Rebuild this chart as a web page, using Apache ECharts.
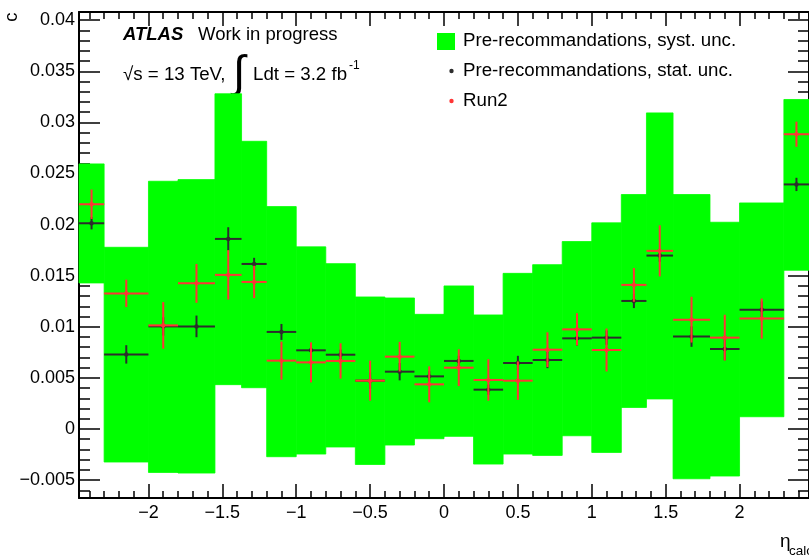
<!DOCTYPE html>
<html><head><meta charset="utf-8">
<script src="https://cdn.jsdelivr.net/npm/echarts@6/dist/echarts.min.js"></script>
<style>html,body{margin:0;padding:0;background:#fff}#c{width:809px;height:558px}</style>
</head><body><div id="c"></div><script>
// ---- data ----
const binEdges = [-2.47,-2.3,-2.0,-1.8,-1.55,-1.37,-1.2,-1.0,-0.8,-0.6,-0.4,-0.2,0,0.2,0.4,0.6,0.8,1.0,1.2,1.37,1.55,1.8,2.0,2.3,2.47];
const systLow  = [0.01429,-0.00323,-0.00425,-0.00431,0.00434,0.00404,-0.00271,-0.00245,-0.00176,-0.00347,-0.00157,-0.00095,-0.00072,-0.00343,-0.00245,-0.00258,-0.00066,-0.00229,0.00211,0.00294,-0.00487,-0.00460,0.00120,0.01553];
const systHigh = [0.02594,0.01778,0.02424,0.02440,0.03280,0.02815,0.02176,0.01782,0.01618,0.01292,0.01282,0.01122,0.01400,0.01116,0.01523,0.01608,0.01834,0.02017,0.02294,0.03093,0.02294,0.02023,0.02212,0.03224];
const preRecValue = [0.02013,0.00730,0.01004,0.01004,0.01860,0.01615,0.00950,0.00770,0.00727,0.00473,0.00561,0.00515,0.00666,0.00385,0.00646,0.00675,0.00887,0.00894,0.01253,0.01697,0.00904,0.00783,0.01168,0.02393];
const preRecStat  = [0.00060,0.00090,0.00090,0.00106,0.00114,0.00060,0.00078,0.00060,0.00050,0.00080,0.00085,0.00050,0.00050,0.00050,0.00070,0.00080,0.00070,0.00070,0.00070,0.00060,0.00100,0.00110,0.00080,0.00065];
const run2Value = [0.02199,0.01327,0.01014,0.01425,0.01508,0.01439,0.00669,0.00652,0.00666,0.00473,0.00708,0.00437,0.00600,0.00480,0.00473,0.00776,0.00975,0.00773,0.01410,0.01743,0.01070,0.00894,0.01080,0.02884];
const run2Err   = [0.00144,0.00134,0.00228,0.00190,0.00242,0.00158,0.00186,0.00196,0.00173,0.00196,0.00145,0.00176,0.00180,0.00203,0.00188,0.00170,0.00158,0.00210,0.00165,0.00250,0.00224,0.00224,0.00196,0.00123];
const xRange = [-2.47, 2.47];
const yRange = [-0.00675, 0.0408];
const xMajor = 0.5, yMajor = 0.005;
const legendNames = ['Pre-recommandations, syst. unc.', 'Pre-recommandations, stat. unc.', 'Run2'];

// ---- chart ----
const FONT = 'Liberation Sans, Arial, Helvetica, sans-serif';
const GREEN = '#00ff00', DARK = '#2d2d2d', RED = '#ff3535';
const chart = echarts.init(document.getElementById('c'), null, {renderer: 'canvas'});

const bandData = binEdges.slice(0, -1).map((lo, i) => [lo, binEdges[i + 1], systLow[i], systHigh[i]]);
const statData = binEdges.slice(0, -1).map((lo, i) => [lo, binEdges[i + 1], preRecValue[i], preRecStat[i]]);
const run2Data = binEdges.slice(0, -1).map((lo, i) => [lo, binEdges[i + 1], run2Value[i], run2Err[i]]);

function renderBand(params, api) {
  const p1 = api.coord([api.value(0), api.value(3)]);
  const p2 = api.coord([api.value(1), api.value(2)]);
  return {type: 'rect', shape: {x: p1[0], y: p1[1], width: p2[0] - p1[0], height: p2[1] - p1[1]},
          style: {fill: GREEN, stroke: GREEN, lineWidth: 0.8}};
}
function makeErr(color) {
  return function (params, api) {
    const lo = api.value(0), hi = api.value(1), v = api.value(2), e = api.value(3);
    const c = (lo + hi) / 2;
    const a = api.coord([lo, v]), b = api.coord([hi, v]);
    const t = api.coord([c, v + e]), d = api.coord([c, v - e]), m = api.coord([c, v]);
    return {type: 'group', children: [
      {type: 'line', shape: {x1: a[0], y1: a[1], x2: b[0], y2: b[1]}, style: {stroke: color, lineWidth: 2}},
      {type: 'line', shape: {x1: t[0], y1: t[1], x2: d[0], y2: d[1]}, style: {stroke: color, lineWidth: 2}},
      {type: 'circle', shape: {cx: m[0], cy: m[1], r: 2.2}, style: {fill: color}}
    ]};
  };
}
const fmt = (v) => String(Math.round(v * 1e5) / 1e5).replace('-', '\u2212');

function xAxisDef(pos, labels) {
  return {type: 'value', position: pos, min: xRange[0], max: xRange[1],
    splitNumber: 10, minInterval: xMajor, maxInterval: xMajor,
    axisLine: {show: true, onZero: false, lineStyle: {color: '#000', width: 2}},
    axisTick: {show: true, inside: true, length: 14, lineStyle: {color: '#000', width: 1.5}},
    minorTick: {show: true, splitNumber: 5, length: 7, lineStyle: {color: '#000', width: 1.5}},
    splitLine: {show: false},
    axisLabel: {show: labels, margin: 6, fontSize: 18, fontFamily: FONT, color: '#000',
      showMinLabel: false, showMaxLabel: false, formatter: fmt}};
}
function yAxisDef(pos, labels) {
  return {type: 'value', position: pos, min: yRange[0], max: yRange[1],
    splitNumber: 10, minInterval: yMajor, maxInterval: yMajor,
    axisLine: {show: true, onZero: false, lineStyle: {color: '#000', width: 2}},
    axisTick: {show: true, inside: true, length: 21, lineStyle: {color: '#000', width: 1.5}},
    minorTick: {show: true, splitNumber: 5, length: 11, lineStyle: {color: '#000', width: 1.5}},
    splitLine: {show: false},
    axisLabel: {show: labels, margin: 4, fontSize: 18, fontFamily: FONT, color: '#000',
      padding: [4, 0, 0, 0], showMinLabel: false, showMaxLabel: false, formatter: fmt}};
}

const txt = (text, x, y, size, extra) => Object.assign({type: 'text', x: x, y: y, silent: true,
  style: Object.assign({text: text, font: size + 'px ' + FONT, fill: '#000', textAlign: 'left', textVerticalAlign: 'middle'}, extra || {})});

const option = {
  backgroundColor: '#fff',
  animation: false,
  grid: {left: 79, top: 12, width: 735, height: 486, show: false},
  xAxis: [xAxisDef('bottom', true), xAxisDef('top', false)],
  yAxis: [yAxisDef('left', true), yAxisDef('right', false)],
  series: [
    {name: legendNames[0], type: 'custom', renderItem: renderBand, data: bandData,
     encode: {x: [0, 1], y: [2, 3]}, itemStyle: {color: GREEN}, z: 2},
    {name: legendNames[1], type: 'custom', renderItem: makeErr(DARK), data: statData,
     encode: {x: [0, 1], y: [2]}, itemStyle: {color: DARK}, z: 3},
    {name: legendNames[2], type: 'custom', renderItem: makeErr(RED), data: run2Data,
     encode: {x: [0, 1], y: [2]}, itemStyle: {color: RED}, z: 4}
  ],
  graphic: [
    // ATLAS label
    txt('ATLAS', 123, 35, 18.5, {font: 'italic bold 18.5px ' + FONT}),
    txt('Work in progress', 198, 35, 18.5),
    txt('\u221As = 13 TeV,', 123, 75, 18.7),
    txt('\u222B', 233, 75, 45),
    txt('Ldt = 3.2 fb', 253, 75, 18.7),
    txt('-1', 349, 66, 12),
    // legend
    {type: 'rect', shape: {x: 437, y: 33, width: 18, height: 17}, style: {fill: GREEN}, silent: true},
    txt(legendNames[0], 463, 41, 18.7),
    {type: 'circle', shape: {cx: 451.5, cy: 71, r: 2.2}, style: {fill: DARK}, silent: true},
    txt(legendNames[1], 463, 71, 18.7),
    {type: 'circle', shape: {cx: 451.5, cy: 101, r: 2.2}, style: {fill: RED}, silent: true},
    txt(legendNames[2], 463, 101, 18.7),
    // axis titles
    txt('c', 11.5, 12.5, 18.5, {textAlign: 'right'}),
    txt('\u03B7', 780, 542, 19),
    txt('calo', 789, 551, 13.5)
  ]
};
// rotate y title
option.graphic[12].rotation = Math.PI / 2;
chart.setOption(option);
</script></body></html>
